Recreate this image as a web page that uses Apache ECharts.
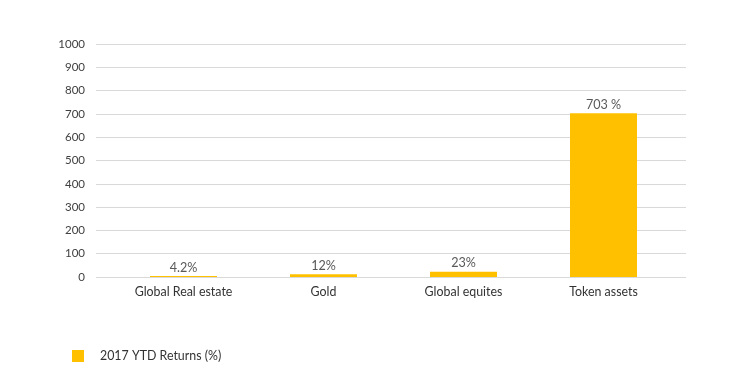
<!DOCTYPE html>
<html><head><meta charset="utf-8">
<script src="https://cdn.jsdelivr.net/npm/echarts@6/dist/echarts.min.js"></script>
<style>html,body{margin:0;padding:0;background:#fff}#c{width:746px;height:387px}</style>
</head><body><div id="c"></div>
<script>
const categories = ['Global Real estate', 'Gold', 'Global equites', 'Token assets'];
const returns = [4.2, 12, 23, 703];
const labels = ['4.2%', '12%', '23%', '703 %'];
const seriesName = '2017 YTD Returns (%)';
const yMin = 0, yMax = 1000, yStep = 100;

const font = 'Lato, "Noto Sans", sans-serif';
const chart = echarts.init(document.getElementById('c'));
chart.setOption({
  animation: false,
  textStyle: {fontFamily: font},
  grid: [
    {left: 96, right: 60, top: 44, bottom: 110},
    {left: 113.5, right: 72.5, top: 44, bottom: 110}
  ],
  xAxis: [
    {type: 'category', gridIndex: 0, data: categories, show: false},
    {type: 'category', gridIndex: 1, data: categories,
     axisLine: {show: false}, axisTick: {show: false},
     axisLabel: {color: '#333333', fontSize: 12.4, margin: 9, fontFamily: font}}
  ],
  yAxis: [
    {type: 'value', gridIndex: 0, min: yMin, max: yMax, interval: yStep,
     axisLine: {show: false}, axisTick: {show: false},
     axisLabel: {color: '#404040', fontSize: 11.5, margin: 11, fontFamily: font,
                 formatter: v => String(v)},
     splitLine: {lineStyle: {color: '#d9d9d9', width: 1}}},
    {type: 'value', gridIndex: 1, min: yMin, max: yMax, interval: yStep, show: false,
     splitLine: {show: false}}
  ],
  legend: {
    left: 67, top: 345, itemWidth: 12, itemHeight: 12, icon: 'rect',
    textStyle: {color: '#333333', fontSize: 12.4, fontFamily: font, padding: [0, 0, 0, 11]},
    data: [seriesName]
  },
  series: [{
    name: seriesName, type: 'bar', xAxisIndex: 1, yAxisIndex: 1,
    data: returns, barWidth: 67,
    itemStyle: {color: '#FFC000'},
    label: {show: true, position: 'top', distance: 2, color: '#595959', fontSize: 12.6, fontFamily: font,
            formatter: p => labels[p.dataIndex]}
  }]
});
</script></body></html>
